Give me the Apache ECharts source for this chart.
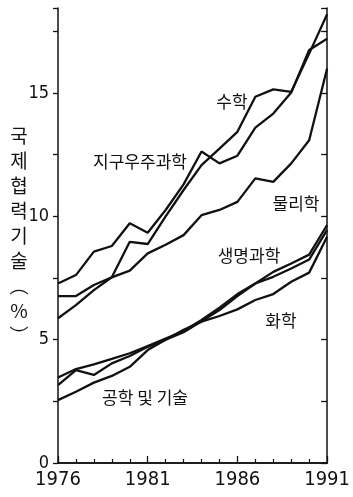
<!DOCTYPE html>
<html>
<head>
<meta charset="utf-8">
<script src="https://cdn.jsdelivr.net/npm/echarts@6/dist/echarts.min.js"></script>
<style>
html,body{margin:0;padding:0;background:#fff;}
#c{width:353px;height:497px;}
</style>
</head>
<body>
<div id="c"></div>
<script>
const years = [1976,1977,1978,1979,1980,1981,1982,1983,1984,1985,1986,1987,1988,1989,1990,1991];
const earthSpace = [7.28,7.62,8.57,8.80,9.72,9.34,10.26,11.3,12.63,12.15,12.46,13.60,14.17,15.02,16.75,17.2];
const math = [6.77,6.77,7.22,7.53,8.97,8.88,10.0,11.07,12.08,12.75,13.43,14.85,15.15,15.05,16.6,18.2];
const physics = [5.87,6.40,7.01,7.53,7.80,8.50,8.85,9.24,10.05,10.26,10.59,11.54,11.40,12.15,13.09,16.0];
const lifeSci = [3.47,3.81,4.00,4.22,4.45,4.74,5.05,5.35,5.8,6.3,6.85,7.28,7.75,8.09,8.45,9.65];
const chemistry = [3.16,3.77,3.57,4.04,4.34,4.71,5.0,5.4,5.73,5.96,6.23,6.61,6.85,7.35,7.72,9.17];
const engTech = [2.55,2.89,3.26,3.53,3.90,4.58,5.0,5.3,5.75,6.2,6.77,7.28,7.55,7.89,8.25,9.45];
const xTickLabels = ['1976','1981','1986','1991'];
const yTickLabels = ['0','5','10','15'];
const seriesNames = ['지구우주과학','수학','물리학','생명과학','화학','공학 및 기술'];
const yTitle = '국제협력기술(%)';

const seriesValues = [earthSpace, math, physics, lifeSci, chemistry, engTech];
const numFont = "'Liberation Sans Narrow','DejaVu Sans Condensed','Liberation Sans',sans-serif";
const krFont = "'Noto Sans CJK KR','Noto Sans CJK SC',sans-serif";
const ink = '#111';

const chart = echarts.init(document.getElementById('c'), null, {renderer:'canvas'});

const labelPos = [[140,162],[232,102],[296,204],[249,256],[281,321],[145,398]];

const yTitleVertical = yTitle.replace('(', '︵').replace(')', '︶').split('').join('\n');

chart.setOption({
  animation:false,
  backgroundColor:'#fff',
  grid:{left:58,right:6,top:8,bottom:34,containLabel:false},
  xAxis:[{
    type:'value',min:1976,max:1991,interval:5,position:'bottom',
    axisLine:{show:true,lineStyle:{color:ink,width:1.5}},
    axisTick:{show:true,inside:true,length:7,lineStyle:{color:ink,width:1.3}},
    minorTick:{show:true,splitNumber:5,length:4,lineStyle:{color:ink,width:1.2}},
    axisLabel:{show:true,margin:7,fontSize:20,fontFamily:numFont,color:ink,
      formatter:function(v){const s=String(Math.round(v));return xTickLabels.indexOf(s)>=0?s:'';}},
    splitLine:{show:false}
  },{
    type:'value',min:1976,max:1991,position:'top',
    axisLine:{show:true,lineStyle:{color:ink,width:1.5}},
    axisTick:{show:false},axisLabel:{show:false},splitLine:{show:false}
  }],
  yAxis:[{
    type:'value',min:0,max:18.45,interval:2.5,position:'left',
    axisLine:{show:true,lineStyle:{color:ink,width:1.5}},
    axisTick:{show:true,inside:false,length:5,lineStyle:{color:ink,width:1.3}},
    axisLabel:{show:true,margin:9,fontSize:18,fontFamily:numFont,color:ink,
      formatter:function(v){const s=String(v);return yTickLabels.indexOf(s)>=0?s:'';}},
    splitLine:{show:false}
  },{
    type:'value',min:0,max:18.45,interval:2.5,position:'right',
    axisLine:{show:true,lineStyle:{color:ink,width:1.5}},
    axisTick:{show:true,inside:true,length:6,lineStyle:{color:ink,width:1.3}},
    axisLabel:{show:false},splitLine:{show:false}
  }],
  series: seriesValues.map(function(vals,i){
    return {
      name:seriesNames[i],type:'line',xAxisIndex:0,yAxisIndex:0,
      showSymbol:false,symbol:'none',smooth:false,
      lineStyle:{color:ink,width:2.3},
      data:years.map(function(y,k){return [y,vals[k]];})
    };
  }),
  graphic: seriesNames.map(function(n,i){
    return {type:'text',x:labelPos[i][0],y:labelPos[i][1],
      style:{text:n,fontSize:17,fontFamily:krFont,fill:ink,align:'center',verticalAlign:'middle'}};
  }).concat([{
    type:'text',x:19,y:236,
    style:{text:yTitleVertical,fontSize:19,lineHeight:25,fontFamily:krFont,fill:ink,align:'center',verticalAlign:'middle'}
  }])
});
</script>
</body>
</html>
